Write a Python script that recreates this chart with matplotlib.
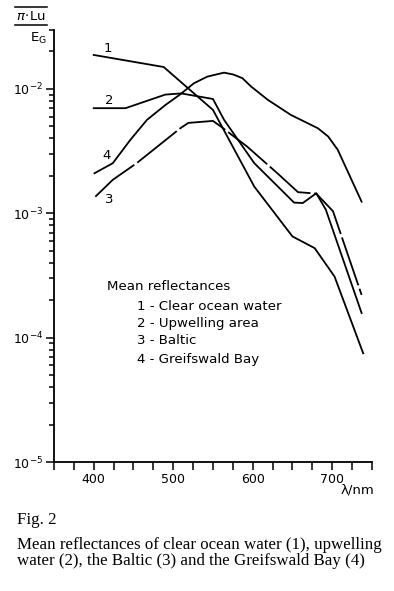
import numpy as np
import matplotlib
matplotlib.use("Agg")
from matplotlib import pyplot as plt
from matplotlib.lines import Line2D
from matplotlib.ticker import MultipleLocator, LogLocator, NullFormatter

# wavelengths (nm) and reflectances
lam_ocean = [400, 488, 550, 602, 650, 678, 703, 739]
refl_ocean = [0.01875, 0.0150, 0.00678, 0.00164, 0.000652, 0.000525, 0.000310, 0.000075]

lam_upwell = [400, 440, 490, 510, 550, 564, 602, 652, 663, 680, 692, 737]
refl_upwell = [0.0070, 0.0070, 0.0090, 0.0092, 0.0083, 0.00564, 0.00253, 0.00122,
               0.00121, 0.00145, 0.00107, 0.000158]

lam_baltic = [402, 424, 454, 509, 519, 550, 560, 593, 631, 657, 680, 701, 737]
refl_baltic = [0.00136, 0.00186, 0.00253, 0.00483, 0.00533, 0.00553, 0.00498, 0.00344,
               0.0021, 0.00148, 0.00144, 0.00104, 0.000221]

lam_greif = [401, 424, 446, 467, 490, 509, 526, 543, 564, 576, 587, 598, 619, 648,
             682, 695, 707, 737]
refl_greif = [0.00210, 0.00253, 0.00389, 0.00564, 0.00741, 0.00906, 0.0111, 0.01256,
              0.01352, 0.01303, 0.0122, 0.01045, 0.00817, 0.00618, 0.00483, 0.00414,
              0.00324, 0.00124]

legend_lines = ["1 - Clear ocean water", "2 - Upwelling area", "3 - Baltic",
                "4 - Greifswald Bay"]

fig = plt.figure(figsize=(3.94, 5.91), dpi=100)
ax = fig.add_axes([0.137, 0.218, 0.807, 0.732])

lw = 1.3
ax.plot(lam_ocean, refl_ocean, color='black', lw=lw)
ax.plot(lam_upwell, refl_upwell, color='black', lw=lw)
ax.plot(lam_baltic, refl_baltic, color='black', lw=lw, linestyle=(0, (28, 2)))
ax.plot(lam_greif, refl_greif, color='black', lw=lw)

ax.set_yscale('log')
ax.set_xlim(350, 750)
ax.set_ylim(1e-5, 3e-2)

for side in ['top', 'right']:
    ax.spines[side].set_visible(False)
ax.spines['left'].set_linewidth(1.3)
ax.spines['bottom'].set_linewidth(1.3)

ax.xaxis.set_major_locator(MultipleLocator(100))
ax.xaxis.set_minor_locator(MultipleLocator(25))
ax.yaxis.set_major_locator(LogLocator(base=10))
ax.yaxis.set_minor_locator(LogLocator(base=10, subs=np.arange(2, 10)))
ax.yaxis.set_minor_formatter(NullFormatter())
ax.tick_params(axis='both', which='major', length=6, width=1.1, labelsize=9, pad=2)
ax.tick_params(axis='x', which='minor', length=6, width=1.1)
ax.tick_params(axis='y', which='minor', length=3.5, width=1.1)

# curve numbers
ax.text(418, 0.0213, "1", fontsize=9.5, ha='center', va='center')
ax.text(420, 0.0080, "2", fontsize=9.5, ha='center', va='center')
ax.text(416, 0.0029, "4", fontsize=9.5, ha='center', va='center')
ax.text(420, 0.00129, "3", fontsize=9.5, ha='center', va='center')

# legend text block
fig.text(107 / 394, 1 - 286 / 591, "Mean reflectances", fontsize=9.6, va='center')
for i, line in enumerate(legend_lines):
    y = [306.5, 324, 341, 359][i]
    fig.text(137 / 394, 1 - y / 591, line, fontsize=9.6, va='center')

# y axis label pi*Lu / E_G
fig.text(31 / 394, 1 - 17 / 591, r"$\pi\!\cdot\!$Lu", fontsize=9.5, ha='center', va='center')
fig.text(38 / 394, 1 - 38 / 591, r"E$_{\mathrm{G}}$", fontsize=9.5, ha='center', va='center')
fig.add_artist(Line2D([15 / 394, 47 / 394], [1 - 7 / 591, 1 - 7 / 591], color='black', lw=1.1))
fig.add_artist(Line2D([15 / 394, 47 / 394], [1 - 25 / 591, 1 - 25 / 591], color='black', lw=1.1))

# x axis label
fig.text(374 / 394, 1 - 490 / 591, "λ/nm", fontsize=9.5, ha='right', va='center')

# caption
cap = dict(family='Liberation Serif', fontsize=12.2, ha='left', va='center')
fig.text(17 / 394, 1 - 520 / 591, "Fig. 2", **cap)
fig.text(17 / 394, 1 - 545 / 591,
         "Mean reflectances of clear ocean water (1), upwelling", **cap)
fig.text(17 / 394, 1 - 561 / 591,
         "water (2), the Baltic (3) and the Greifswald Bay (4)", **cap)

fig.savefig("out.png", dpi=100)
